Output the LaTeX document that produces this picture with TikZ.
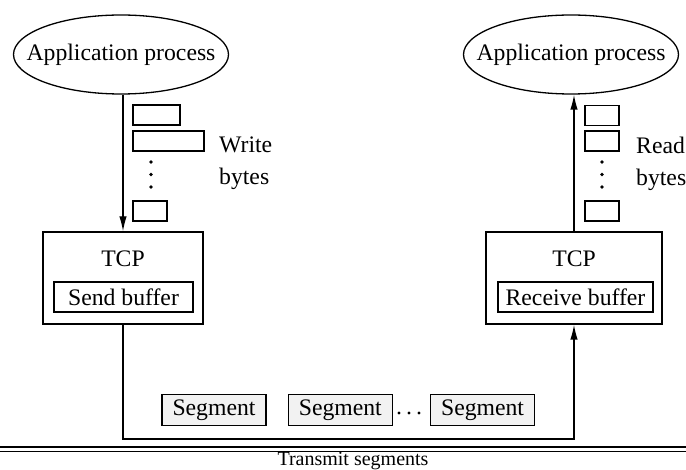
\documentclass[tikz,border=0pt]{standalone}
\usepackage{fontspec}
\setmainfont{Liberation Serif}
\usetikzlibrary{positioning, shapes.geometric, arrows.meta}

\begin{document}
\begin{tikzpicture}[
  x=1pt, y=-1pt,
  every node/.style={font=\fontsize{23.7}{32}\selectfont, inner sep=0pt},
  proc/.style={ellipse, draw=black, line width=1.3pt, inner xsep=-18.5pt, minimum width=215pt, minimum height=79pt},
  tcp/.style={rectangle, draw=black, line width=1.3pt, minimum height=92pt},
  buffer/.style={rectangle, draw=black, line width=1.3pt, minimum height=30pt},
  byte/.style={rectangle, draw=black, line width=1.3pt, minimum height=20pt},
  seg/.style={rectangle, draw=black, line width=1.3pt, fill=gray!10, minimum width=104pt, minimum height=31pt},
  flow/.style={-{Latex[length=15pt, width=7.5pt]}, line width=1.3pt}
]

\useasboundingbox (0,0) rectangle (686,470);

% sender side
\node[proc] (appL) at (121,54.5) {Application process};
\node[tcp, minimum width=160pt] (tcpL) at (123,278) {};
\node[anchor=base] (tcpLlbl) at (123,267) {TCP};
\node[buffer, minimum width=139pt] (sendbuf) at (123.5,297) {Send buffer};

\node[byte, minimum width=47pt] (wb1) at (156.5,115) {};
\node[byte, minimum width=71pt] (wb2) at (168.5,141) {};
\node[byte, minimum width=34pt] (wb3) at (150,211) {};
\foreach \y in {162,174.5,187}
  \fill (151,\y) circle (1.8pt);
\node[anchor=north west, align=left] (write) at (219,137) {Write\\bytes};

% receiver side
\node[proc] (appR) at (571,54.5) {Application process};
\node[tcp, minimum width=176pt] (tcpR) at (574,278) {};
\node[anchor=base] (tcpRlbl) at (574,267) {TCP};
\node[buffer, minimum width=155pt] (recvbuf) at (575.5,297) {Receive buffer};

\node[byte, minimum width=34pt] (rb1) at (602,115.5) {};
\node[byte, minimum width=34pt] (rb2) at (602,141) {};
\node[byte, minimum width=34pt] (rb3) at (602,211) {};
\foreach \y in {162,174.5,187}
  \fill (602,\y) circle (1.8pt);
\node[anchor=north west, align=left] (read) at (636,137) {Read\\bytes};

% segments in transit
\node[seg] (seg1) at (214,410) {Segment};
\node[seg, right=21pt of seg1] (seg2) {Segment};
\node[seg, right=37pt of seg2] (seg3) {Segment};
\foreach \x in {399,409,419}
  \fill (\x,413) circle (1.6pt);

\draw[flow] (appL.south -| tcpL.north) -- (tcpL.north);
\draw[flow] (tcpR.north) -- (tcpR.north |- appR.south);
\coordinate (busR) at (574,439);
\draw[flow] (tcpL.south) |- (busR) -- (tcpR.south);

% medium
\draw[line width=2pt] (0,447.5) -- (686,447.5);
\draw[line width=1pt] (0,451.5) -- (686,451.5);
\node[anchor=base, font=\fontsize{20}{24}\selectfont] (medium) at (353,465.5) {Transmit segments};

\end{tikzpicture}
\end{document}
